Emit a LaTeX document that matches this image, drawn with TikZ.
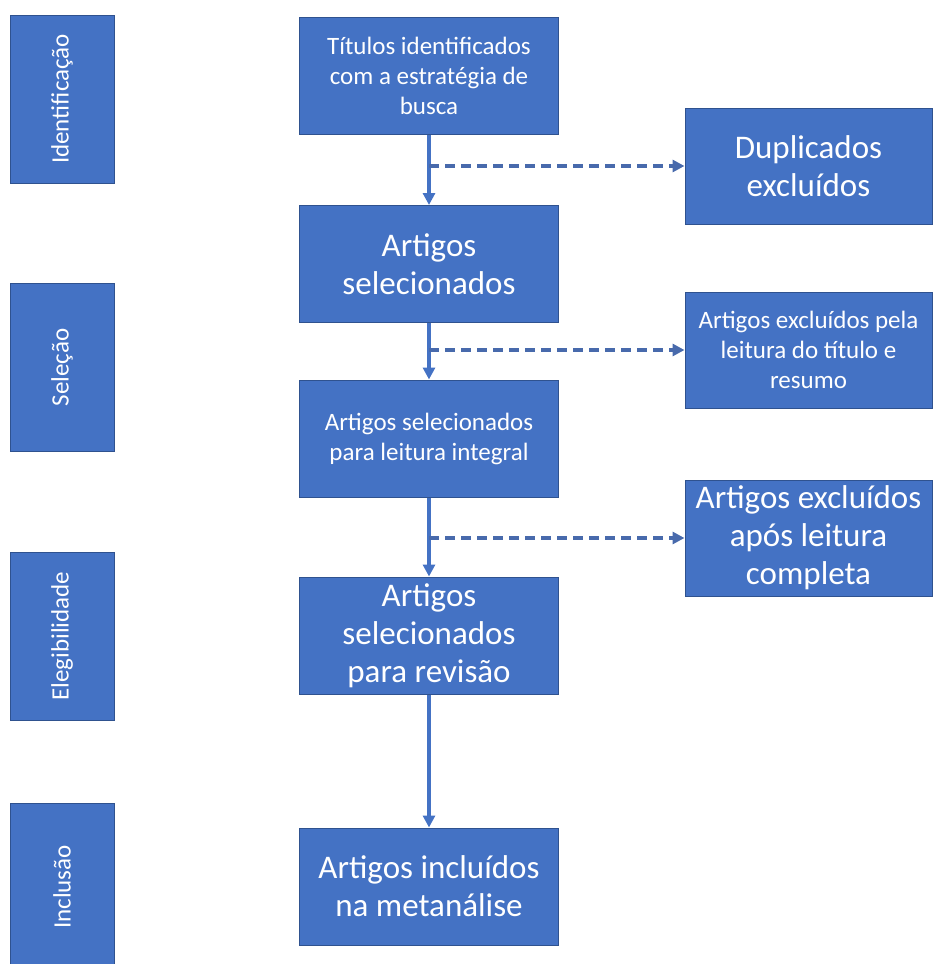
\documentclass[tikz,border=0pt]{standalone}
\usepackage{fontspec}
\setmainfont{Carlito}
\usetikzlibrary{arrows.meta}

\definecolor{boxblue}{RGB}{68,114,196}
\definecolor{boxedge}{RGB}{47,82,143}
\definecolor{linkblue}{RGB}{68,114,196}
\definecolor{dashblue}{RGB}{72,106,172}

\tikzset{
  stagebox/.style={draw=boxedge, line width=1pt, fill=boxblue, text=white,
    inner sep=0pt, align=center},
  mainbox/.style={stagebox, minimum width=259pt, minimum height=117pt},
  sidebox/.style={stagebox, minimum width=247pt, minimum height=116pt},
  phasebox/.style={stagebox, rotate=90, minimum width=168pt, minimum height=104pt,
    font=\fontsize{25}{30}\selectfont},
  bigtext/.style={font=\fontsize{33}{38}\selectfont},
  smalltext/.style={font=\fontsize{25}{30}\selectfont},
  flowarrow/.style={draw=linkblue, line width=3.5pt,
    -{Triangle[length=12pt,width=12pt]}},
  droparrow/.style={draw=dashblue, line width=3.5pt, dash pattern=on 10pt off 6pt,
    -{Triangle[length=12pt,width=12pt]}}
}

\begin{document}
\begin{tikzpicture}[x=1pt, y=-1pt]
  \useasboundingbox (0,0) rectangle (934,964);
  \begin{scope}
  \clip (0,0) rectangle (934,964);

  % phase labels on the left
  \node[phasebox] (pid)  at (62,99)    {Identificação};
  \node[phasebox] (psel) at (62,367.5) {Seleção};
  \node[phasebox] (pele) at (62,636)   {Elegibilidade};
  \node[phasebox] (pinc) at (62,887)   {Inclusão};

  % main flow
  \node[mainbox, smalltext] (m1) at (429,76)    {Títulos identificados\\com a estratégia de\\busca};
  \node[mainbox, bigtext]   (m2) at (429,264)   {Artigos\\selecionados};
  \node[mainbox, smalltext] (m3) at (429,438.5) {Artigos selecionados\\para leitura integral};
  \node[mainbox, bigtext]   (m4) at (429,635.5) {Artigos\\selecionados\\para revisão};
  \node[mainbox, bigtext]   (m5) at (429,886.5) {Artigos incluídos\\na metanálise};

  % exclusions
  \node[sidebox, bigtext]   (x1) at (808.5,166) {Duplicados\\excluídos};
  \node[sidebox, smalltext] (x2) at (808.5,350) {Artigos excluídos pela\\leitura do título e\\resumo};
  \node[sidebox, bigtext]   (x3) at (808.5,538) {Artigos excluídos\\após leitura\\completa};

  % connectors
  \draw[flowarrow] (m1.south) -- (m2.north);
  \draw[flowarrow] (m2.south) -- (m3.north);
  \draw[flowarrow] (m3.south) -- (m4.north);
  \draw[flowarrow] (m4.south) -- (m5.north);

  \draw[droparrow] (m1.south |- x1.west) -- (x1.west);
  \draw[droparrow] (m2.south |- x2.west) -- (x2.west);
  \draw[droparrow] (m3.south |- x3.west) -- (x3.west);
  \end{scope}
\end{tikzpicture}
\end{document}
